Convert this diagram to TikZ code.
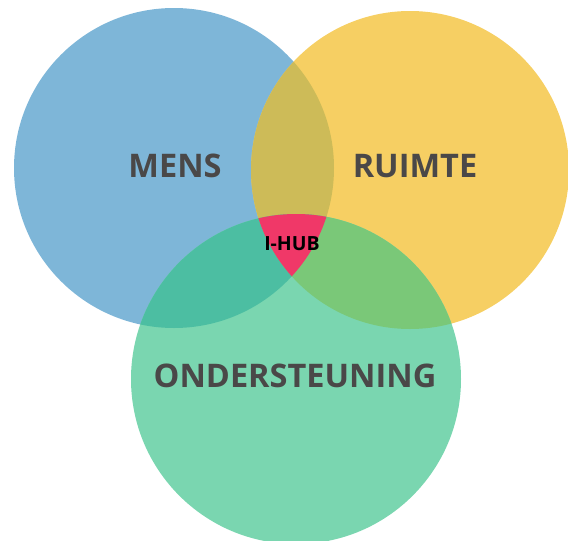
\documentclass[tikz,border=0pt]{standalone}
\usepackage{fontspec}
\setmainfont{Open Sans}
\definecolor{colorMens}{RGB}{126,182,216}
\definecolor{colorRuimte}{RGB}{246,207,99}
\definecolor{colorSteun}{RGB}{122,214,176}
\definecolor{colorMensRuimte}{RGB}{205,187,88}
\definecolor{colorMensSteun}{RGB}{76,190,162}
\definecolor{colorRuimteSteun}{RGB}{122,200,120}
\definecolor{colorHub}{RGB}{240,56,104}
\definecolor{colorLabel}{RGB}{74,72,72}
\newcommand{\mensCircle}{(174,168) circle[radius=160pt]}
\newcommand{\ruimteCircle}{(410,170) circle[radius=159pt]}
\newcommand{\steunCircle}{(296,379) circle[radius=165pt]}
\tikzset{
  area label/.style={font=\bfseries\fontsize{32.5}{32}\selectfont, text=colorLabel, inner sep=0pt},
  hub label/.style={font=\bfseries\fontsize{19.5}{20}\selectfont, text=black, inner sep=0pt}
}

\begin{document}
\begin{tikzpicture}[x=1pt, y=-1pt]
\useasboundingbox (0,0) rectangle (568,541);
% circles
\fill[colorMens] \mensCircle;
\fill[colorRuimte] \ruimteCircle;
\fill[colorSteun] \steunCircle;
% overlaps
\begin{scope}
\clip \mensCircle;
\fill[colorMensRuimte] \ruimteCircle;
\fill[colorMensSteun] \steunCircle;
\end{scope}
\begin{scope}
\clip \ruimteCircle;
\fill[colorRuimteSteun] \steunCircle;
\end{scope}
\begin{scope}
\clip \mensCircle;
\clip \ruimteCircle;
\fill[colorHub] \steunCircle;
\end{scope}
% labels
\node[area label] (mens) at (175,166) {MENS};
\node[area label] (ruimte) at (415,166) {RUIMTE};
\node[area label] (steun) at (295,376) {ONDERSTEUNING};
\node[hub label] (hub) at (292,244) {I-HUB};
\end{tikzpicture}
\end{document}
